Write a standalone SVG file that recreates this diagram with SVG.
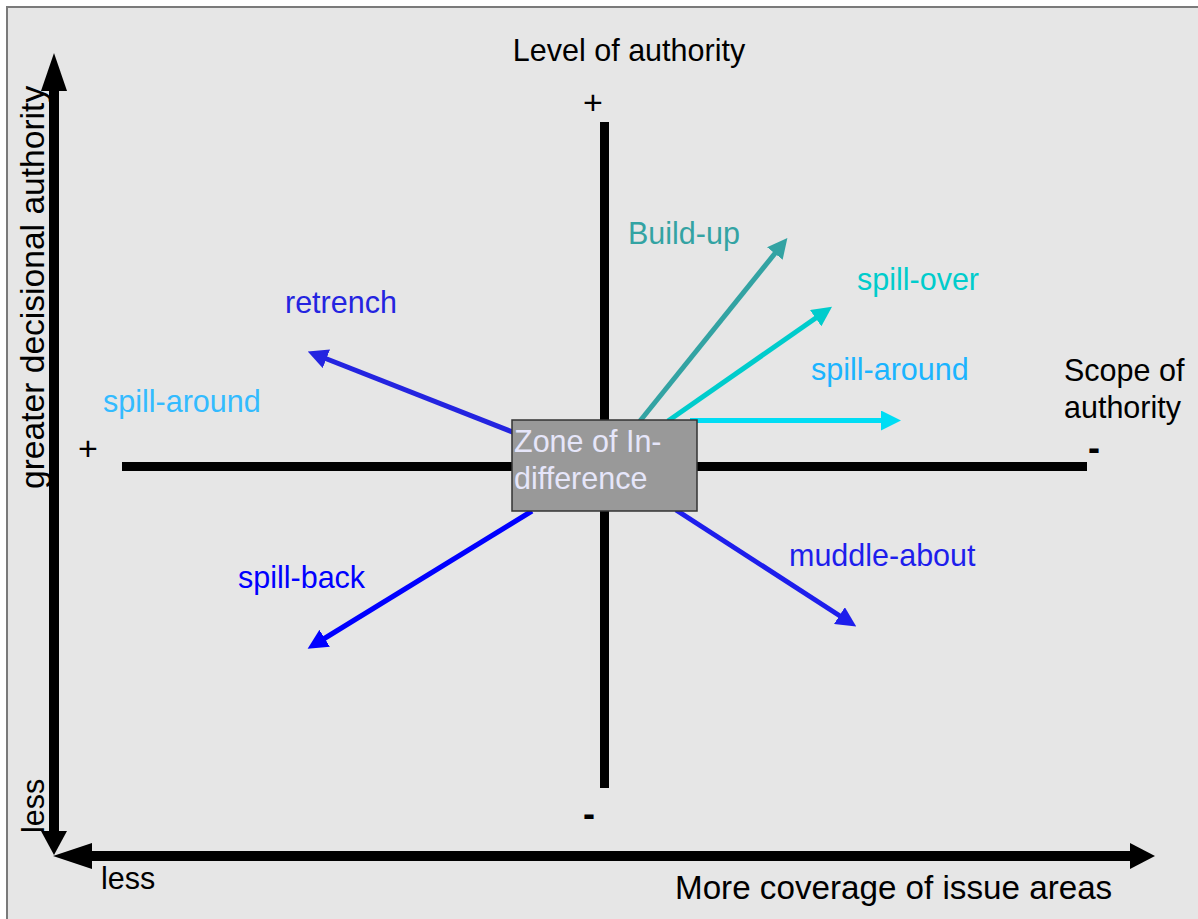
<svg xmlns="http://www.w3.org/2000/svg" width="1198" height="919" viewBox="0 0 1198 919">
<style>
text{font-family:"Liberation Sans",Arial,sans-serif;font-size:30.5px}
.blk{fill:#000}
.axis{stroke:#000;stroke-width:10;fill:none}
.cross{stroke:#000;stroke-width:9;fill:none}
.arr{stroke-width:5;fill:none}
</style>
<defs>
<marker id="mBlue1" markerUnits="userSpaceOnUse" markerWidth="20" markerHeight="20" refX="9" refY="10" orient="auto"><path d="M0,0 L20,10 L0,20 z" fill="#2424e0"/></marker>
<marker id="mBlue2" markerUnits="userSpaceOnUse" markerWidth="20" markerHeight="20" refX="9" refY="10" orient="auto"><path d="M0,0 L20,10 L0,20 z" fill="#0000ff"/></marker>
<marker id="mBlue3" markerUnits="userSpaceOnUse" markerWidth="20" markerHeight="20" refX="9" refY="10" orient="auto"><path d="M0,0 L20,10 L0,20 z" fill="#1e1eec"/></marker>
<marker id="mTeal" markerUnits="userSpaceOnUse" markerWidth="20" markerHeight="20" refX="9" refY="10" orient="auto"><path d="M0,0 L20,10 L0,20 z" fill="#33a3a3"/></marker>
<marker id="mCyan" markerUnits="userSpaceOnUse" markerWidth="20" markerHeight="20" refX="9" refY="10" orient="auto"><path d="M0,0 L20,10 L0,20 z" fill="#00cccc"/></marker>
<marker id="mSky" markerUnits="userSpaceOnUse" markerWidth="20" markerHeight="20" refX="9" refY="10" orient="auto"><path d="M0,0 L20,10 L0,20 z" fill="#00ddf4"/></marker>
</defs>
<rect x="7" y="7" width="1200" height="920" fill="#e6e6e6" stroke="#7a7a7a" stroke-width="2"/>
<g id="axes">
<line class="axis" x1="54" y1="88" x2="54" y2="834"/>
<polygon points="54,53 41,91 67,91" class="blk"/>
<polygon points="54,855 41,831 67,831" class="blk"/>
<line class="axis" x1="90" y1="856" x2="1132" y2="856"/>
<polygon points="53,856 92,843 92,869" class="blk"/>
<polygon points="1155,856 1130,843 1130,869" class="blk"/>
<line class="cross" x1="604.5" y1="122" x2="604.5" y2="788"/>
<line class="cross" x1="122" y1="466.5" x2="1087" y2="466.5"/>
</g>
<g id="connectors">
<line class="arr" stroke="#2424e0" x1="515" y1="433" x2="318" y2="355.5" marker-end="url(#mBlue1)"/>
<line class="arr" stroke="#33a3a3" x1="640" y1="421" x2="780.5" y2="246.5" marker-end="url(#mTeal)"/>
<line class="arr" stroke="#00cccc" x1="668" y1="421" x2="823" y2="313" marker-end="url(#mCyan)"/>
<line class="arr" stroke="#00ddf4" x1="690" y1="420.5" x2="890" y2="420.5" marker-end="url(#mSky)"/>
<line class="arr" stroke="#0000ff" x1="532" y1="511" x2="317" y2="643" marker-end="url(#mBlue2)"/>
<line class="arr" stroke="#1e1eec" x1="676" y1="510" x2="847" y2="620.5" marker-end="url(#mBlue3)"/>
</g>
<g id="zone">
<rect x="512" y="420" width="185" height="91" fill="#999999" stroke="#333" stroke-width="1.5"/>
<text x="514" y="452" fill="#e6e6fa">Zone of In-</text>
<text x="514" y="489" fill="#e6e6fa">difference</text>
</g>
<g id="labels">
<text x="629" y="61" text-anchor="middle" class="blk">Level of authority</text>
<text x="593" y="114" text-anchor="middle" class="blk" style="font-size:34px">+</text>
<text x="88" y="460" text-anchor="middle" class="blk" style="font-size:34px">+</text>
<text x="589" y="826" text-anchor="middle" class="blk" style="font-size:36px;font-weight:bold">-</text>
<text x="1094" y="460" text-anchor="middle" class="blk" style="font-size:36px;font-weight:bold">-</text>
<text x="1064" y="381" class="blk">Scope of</text>
<text x="1064" y="418" class="blk">authority</text>
<text x="628" y="244" fill="#33a3a3">Build-up</text>
<text x="857" y="290" fill="#00cccc">spill-over</text>
<text x="811" y="380" fill="#1ab4ff">spill-around</text>
<text x="285" y="313" fill="#2424e0">retrench</text>
<text x="103" y="412" fill="#33bbff">spill-around</text>
<text x="238" y="588" fill="#0000ff">spill-back</text>
<text x="789" y="566" fill="#1e1eec">muddle-about</text>
<text transform="translate(44,489) rotate(-90)" class="blk" style="font-size:33.6px">greater decisional authority</text>
<text transform="translate(44,833) rotate(-90)" class="blk">less</text>
<text x="101" y="889" class="blk">less</text>
<text x="675" y="899" class="blk" style="font-size:33.2px">More coverage of issue areas</text>
</g>
</svg>
